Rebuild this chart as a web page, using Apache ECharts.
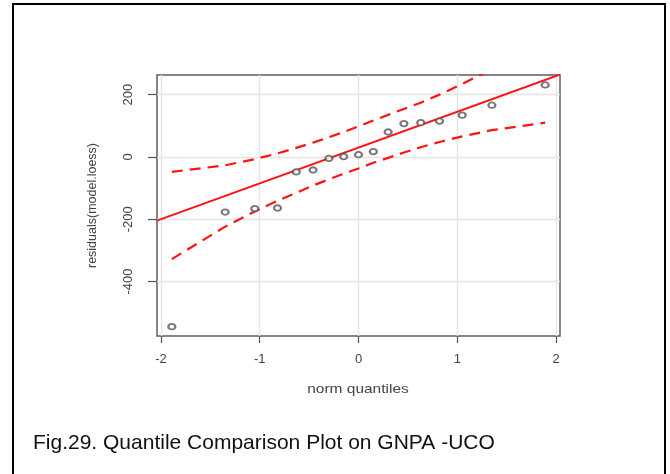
<!DOCTYPE html>
<html>
<head>
<meta charset="utf-8">
<script src="https://cdn.jsdelivr.net/npm/echarts@6/dist/echarts.min.js"></script>
<style>
  html, body { margin: 0; padding: 0; background: #fff; }
  #chart { width: 670px; height: 474px; }
</style>
</head>
<body>
<div id="chart"></div>
<script>
// Theoretical normal quantiles (x) and ordered residuals (y)
const normQuantiles = [-1.89, -1.35, -1.05, -0.82, -0.63, -0.46, -0.30, -0.15, 0, 0.15, 0.30, 0.46, 0.63, 0.82, 1.05, 1.35, 1.89];
const residuals     = [-545, -177, -166, -164, -48, -42, -5, 1, 7, 17, 80, 107, 110, 115, 134, 166, 231];

// Pointwise confidence envelope at the same quantiles
const envelopeUpper = [-48, -27, -7, 11, 29, 46, 63, 80, 98, 117, 135, 154, 174, 200, 234, 282, 385];
const envelopeLower = [-328, -224, -175, -141, -115, -92, -72, -54, -37, -19, -3, 14, 31, 48, 66, 86, 110];

// Reference line through the quartiles
const refIntercept = 30;
const refSlope = 115;

// Axis extents and tick values
const xRange = [-2.04, 2.04];
const yRange = [-575, 263];
const xTicks = [-2, -1, 0, 1, 2];
const yTicks = [-400, -200, 0, 200];

const FONT = '"Liberation Sans", Arial, Helvetica, sans-serif';
const RED = '#ff1414';

const zip = (xs, ys) => xs.map((x, i) => [x, ys[i]]);
const refLine = xRange.map(x => [x, refIntercept + refSlope * x]);

const chart = echarts.init(document.getElementById('chart'), null, { renderer: 'canvas' });

chart.setOption({
  animation: false,
  backgroundColor: '#ffffff',
  grid: {
    left: 157, top: 75, width: 403, height: 261,
    show: true,
    borderColor: '#5e5e5e',
    borderWidth: 1.5,
    backgroundColor: 'transparent'
  },
  xAxis: {
    type: 'value',
    min: xRange[0], max: xRange[1],
    axisLine: { show: false, onZero: false },
    axisTick: { show: true, customValues: xTicks, length: 7, lineStyle: { color: '#555', width: 1.2 } },
    axisLabel: { customValues: xTicks, margin: 17, color: '#444', fontSize: 13, fontFamily: FONT },
    splitLine: { show: true, lineStyle: { color: '#e4e4e4', width: 1.3 } }
  },
  yAxis: {
    type: 'value',
    min: yRange[0], max: yRange[1],
    name: 'residuals(model.loess)',
    nameLocation: 'middle',
    nameGap: 58,
    nameTextStyle: { color: '#444', fontSize: 12.5, fontFamily: FONT },
    axisLine: { show: false, onZero: false },
    axisTick: { show: true, customValues: yTicks, length: 9, lineStyle: { color: '#555', width: 1.2 } },
    axisLabel: { customValues: yTicks, rotate: 90, margin: 22, color: '#444', fontSize: 13, fontFamily: FONT },
    splitLine: { show: true, lineStyle: { color: '#e4e4e4', width: 1.3 } }
  },
  series: [
    {
      name: 'upper envelope',
      type: 'line',
      data: zip(normQuantiles, envelopeUpper),
      symbol: 'none',
      clip: true,
      lineStyle: { color: RED, width: 2.2, type: [11, 7] }
    },
    {
      name: 'lower envelope',
      type: 'line',
      data: zip(normQuantiles, envelopeLower),
      symbol: 'none',
      clip: true,
      lineStyle: { color: RED, width: 2.2, type: [11, 7] }
    },
    {
      name: 'reference line',
      type: 'line',
      data: refLine,
      symbol: 'none',
      clip: true,
      lineStyle: { color: RED, width: 2 }
    },
    {
      name: 'residuals',
      type: 'scatter',
      data: zip(normQuantiles, residuals),
      symbol: 'emptyCircle',
      symbolSize: [7, 5.5],
      itemStyle: { color: '#555', borderColor: '#555', borderWidth: 0.9 },
      z: 5
    }
  ],
  graphic: [
    {
      type: 'rect',
      shape: { x: 13, y: 4, width: 652, height: 490 },
      style: { fill: 'none', stroke: '#000', lineWidth: 2 },
      silent: true
    },
    {
      type: 'text',
      x: 358, y: 389,
      scaleX: 1.19,
      style: {
        text: 'norm quantiles',
        fill: '#444', font: '13px ' + FONT,
        align: 'center', verticalAlign: 'middle'
      }
    },
    {
      type: 'text',
      x: 33, y: 443,
      style: {
        text: 'Fig.29. Quantile Comparison Plot on GNPA -UCO',
        fill: '#111', font: '21px ' + FONT,
        align: 'left', verticalAlign: 'middle'
      }
    }
  ]
});
</script>
</body>
</html>
